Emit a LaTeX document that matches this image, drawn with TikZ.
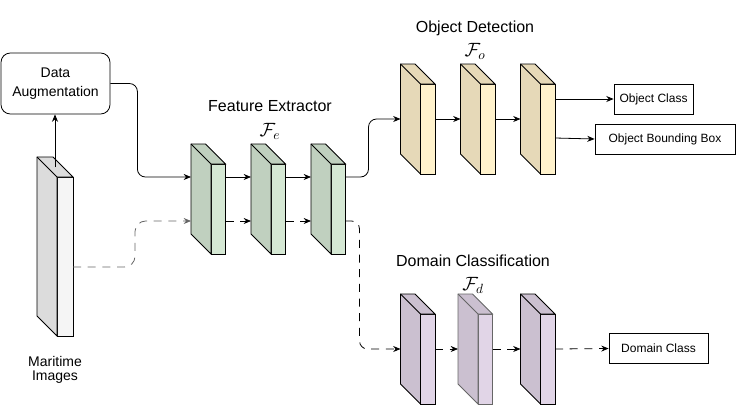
\documentclass[tikz,border=0pt]{standalone}
\usepackage{amsmath}
\usepackage{fontspec}
\setmainfont{Liberation Sans}
\usetikzlibrary{arrows.meta}
\definecolor{imS}{HTML}{DCDCDC}
\definecolor{imF}{HTML}{F5F5F5}
\definecolor{feS}{HTML}{C0D0BF}
\definecolor{feF}{HTML}{D5E8D4}
\definecolor{odS}{HTML}{E6D9B8}
\definecolor{odF}{HTML}{FFF2CC}
\definecolor{dcS}{HTML}{CBC0D0}
\definecolor{dcF}{HTML}{E1D5E7}
\definecolor{lineG}{HTML}{666666}

% layer block: [outline] name, x, y (front top-left), width, height, colour
\newcommand{\layer}[7][black]{%
  \node[layerfront, draw=#1, fill=#7F, minimum width={#5*0.75pt}, minimum height={#6*0.75pt}] (#2) at (#3,#4) {};
  \path (#2.north west) ++(-20,-20) coordinate (#2-a);
  \filldraw[draw=#1, fill=#7S] (#2-a) -- ++(#5,0) -- (#2.north east) -- (#2.north west) -- (#2.south west) -- ++(-20,-20) -- cycle;
  \draw[#1] (#2-a) -- (#2.north west);
  \path (#2.north west) ++(-20,0) coordinate (#2-l);
}

\begin{document}
\begin{tikzpicture}[x=0.75pt, y=-0.75pt, line width=0.6pt,
  >={Stealth[length=5.5pt,width=4.5pt]},
  layerfront/.style={draw, anchor=north west, inner sep=0pt, outer sep=0pt},
  outbox/.style={draw, inner sep=0pt, minimum height=22.5pt, font=\fontsize{9}{10}\selectfont},
  title/.style={font=\fontsize{12}{14}\selectfont, inner sep=0.5pt},
  symb/.style={font=\fontsize{14}{16}\selectfont, inner sep=0pt},
  flowdash/.style={dash pattern=on 6pt off 5pt}]
  \useasboundingbox (0,0) rectangle (737,418);

  % rows of the connectors
  \coordinate (rowfe) at (0,177);
  \coordinate (rowfd) at (0,221);
  \coordinate (rowim) at (0,267);
  \coordinate (rowod) at (0,119);
  \coordinate (rowoc) at (0,99);
  \coordinate (rowob) at (0,138);
  \coordinate (rowdc) at (0,349);

  % input
  \layer{img}{57}{177}{16}{159}{im}
  \node[align=center, font=\fontsize{10.5}{11}\selectfont] (imgtxt) at (55,370) {Maritime\\Images};
  \node[draw, rounded corners=7pt, minimum width=81.75pt, minimum height=45.75pt, align=center,
        font=\fontsize{10.5}{14}\selectfont] (aug) at (55.5,83.5) {Data\\Augmentation};

  % feature extractor
  \layer{fe1}{211}{164}{14.5}{90}{fe}
  \layer{fe2}{271}{164}{14.5}{90}{fe}
  \layer{fe3}{331}{164}{14.5}{90}{fe}
  \node[title] (fetitle) at (270,106) {Feature Extractor};
  \node[symb] (fesym) at (270,131) {$\mathcal{F}_e$};

  % object detection
  \layer{od1}{420.5}{84}{14.5}{90}{od}
  \layer{od2}{480.5}{84}{14.5}{90}{od}
  \layer{od3}{540.5}{84}{14.5}{90}{od}
  \node[title] (odtitle) at (475,28) {Object Detection};
  \node[symb] (odsym) at (475,51) {$\mathcal{F}_o$};

  % domain classification
  \layer{dc1}{420.5}{314}{14.5}{90}{dc}
  \layer[lineG]{dc2}{478}{314}{14.5}{90}{dc}
  \layer{dc3}{540.5}{314}{14.5}{90}{dc}
  \node[title] (dctitle) at (473,261) {Domain Classification};
  \node[symb] (dcsym) at (473,285) {$\mathcal{F}_d$};

  % outputs
  \node[outbox, minimum width=59.25pt] (ocls) at (653.5,99) {Object Class};
  \node[outbox, minimum width=105pt] (obox) at (665,139) {Object Bounding Box};
  \node[outbox, minimum width=74.25pt] (dcls) at (658.5,348.5) {Domain Class};

  % connectors
  \path (img.north west) ++(-2,-10) coordinate (imgtop);
  \draw[->] (imgtop) -- (imgtop |- aug.south);
  \draw[->, rounded corners=6pt] (aug.east) -- ++(27,0) |- (fe1-l |- rowfe);
  \draw[->, lineG, flowdash, rounded corners=8pt] (img.east |- rowim) -- ++(62,0) |- (fe1-l |- rowfd);
  \draw[->] (fe1.east |- rowfe) -- (fe2-l |- rowfe);
  \draw[->] (fe2.east |- rowfe) -- (fe3-l |- rowfe);
  \draw[->, flowdash] (fe1.east |- rowfd) -- (fe2-l |- rowfd);
  \draw[->, flowdash] (fe2.east |- rowfd) -- (fe3-l |- rowfd);
  \draw[->, rounded corners=6pt] (fe3.east |- rowfe) -- ++(23,0) |- (od1-l |- rowod);
  \draw[->, flowdash, rounded corners=6pt] (fe3.east |- rowfd) -- ++(14,0) |- (dc1-l |- rowdc);
  \draw[->] (od1.east |- rowod) -- (od2-l |- rowod);
  \draw[->] (od2.east |- rowod) -- (od3-l |- rowod);
  \draw[->] (od3.east |- rowoc) -- (ocls.west);
  \draw[->] (od3.east |- rowob) -- (obox.west);
  \draw[->, flowdash] (dc1.east |- rowdc) -- (dc2-l |- rowdc);
  \draw[->, flowdash] (dc2.east |- rowdc) -- (dc3-l |- rowdc);
  \draw[->, flowdash] (dc3.east |- rowdc) -- (dcls.west);
\end{tikzpicture}
\end{document}
